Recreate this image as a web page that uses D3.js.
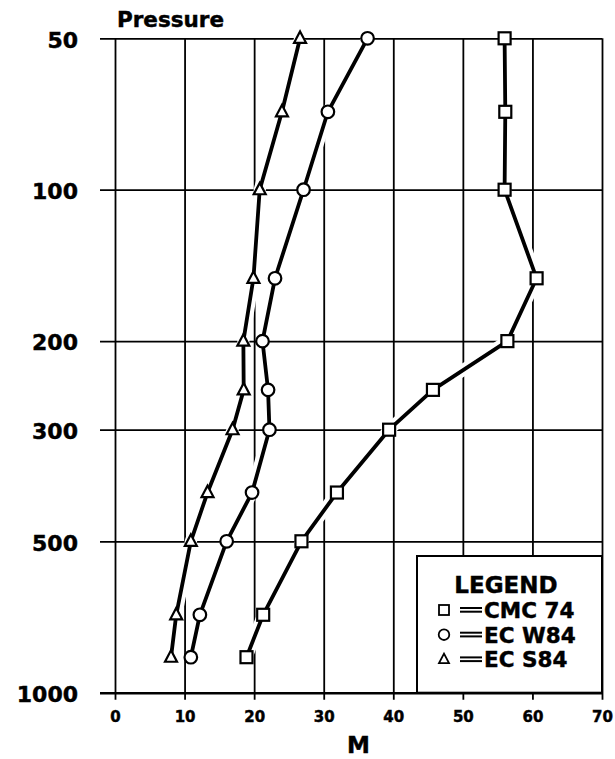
<!DOCTYPE html>
<html>
<head>
<meta charset="utf-8">
<script src="https://cdn.jsdelivr.net/npm/d3@7"></script>
<style>
  html, body { margin: 0; padding: 0; background: #fff; }
  svg { display: block; }
  text { font-family: "DejaVu Sans", sans-serif; font-weight: bold; fill: #000; stroke: #000; stroke-width: 0.45; }
</style>
</head>
<body>
<script>
// ---- data ----
const pressures = [50, 70, 100, 150, 200, 250, 300, 400, 500, 700, 850];
const cmc74 = [56.0, 56.1, 56.0, 60.6, 56.4, 45.7, 39.4, 31.9, 26.8, 21.3, 18.9];
const ecW84 = [36.3, 30.6, 27.1, 23.0, 21.2, 22.0, 22.2, 19.7, 16.05, 12.2, 10.9];
const ecS84 = [26.6, 24.0, 20.8, 19.9, 18.45, 18.5, 16.9, 13.3, 10.9, 8.8, 8.05];
const seriesNames = ["CMC 74", "EC W84", "EC S84"];
const seriesShapes = ["square", "circle", "triangle"];
const xTicks = [0, 10, 20, 30, 40, 50, 60, 70];
const yTicks = [50, 100, 200, 300, 500, 1000];
const xTitle = "M";
const yTitle = "Pressure";
const legendTitle = "LEGEND";

// ---- layout ----
const W = 615, H = 759;
const pLeft = 115, pRight = 602, pTop = 38.3, pBottom = 692.7;

const svg = d3.select("body").append("svg").attr("width", W).attr("height", H);

const x = d3.scaleLinear().domain([0, 70]).range([pLeft, pRight]);
const y = d3.scaleLog().domain([50, 1000]).range([pTop, pBottom]);

// horizontal grid + y labels
const gy = svg.append("g").attr("transform", `translate(${pLeft - 15},0)`)
  .call(d3.axisLeft(y).tickValues(yTicks).tickFormat(d3.format("d"))
    .tickSize(-(pRight - pLeft + 15)).tickPadding(22));
gy.select(".domain").remove();
gy.selectAll(".tick line").attr("stroke", "#000")
  .attr("stroke-width", d => d === 1000 ? 2.6 : 1.8);
gy.selectAll(".tick text").attr("font-size", 22).attr("font-family", "DejaVu Sans")
  .attr("font-weight", "bold").attr("fill", "#000").attr("dy", "0.4em");

// vertical grid + x labels
const gx = svg.append("g").attr("transform", `translate(0,${pBottom + 7})`)
  .call(d3.axisBottom(x).tickValues(xTicks).tickFormat(d3.format("d"))
    .tickSize(-(pBottom + 7 - pTop)).tickPadding(11.5));
gx.select(".domain").remove();
gx.selectAll(".tick line").attr("stroke", "#000").attr("stroke-width", 1.8);
gx.selectAll(".tick text").attr("font-size", 15).attr("font-family", "DejaVu Sans")
  .attr("font-weight", "bold").attr("fill", "#000");

// titles
svg.append("text").attr("x", 117).attr("y", 27).attr("font-size", 21.5).text(yTitle);
svg.append("text").attr("x", (pLeft + pRight) / 2).attr("y", 753).attr("text-anchor", "middle")
  .attr("font-size", 23).text(xTitle);

// ---- series ----
const series = [cmc74, ecW84, ecS84].map((vals, i) => ({
  name: seriesNames[i], shape: seriesShapes[i],
  pts: vals.map((v, j) => ({ m: v, p: pressures[j] }))
}));

const line = d3.line().x(d => x(d.m)).y(d => y(d.p));

// white halos (erase grid near the curves)
svg.append("g").selectAll("path").data(series).join("path")
  .attr("d", d => line(d.pts)).attr("fill", "none")
  .attr("stroke", "#fff").attr("stroke-width", 12).attr("stroke-linejoin", "round");

svg.append("g").selectAll("path").data(series).join("path")
  .attr("d", d => line(d.pts)).attr("fill", "none")
  .attr("stroke", "#000").attr("stroke-width", 3.8).attr("stroke-linejoin", "round");

function drawMarker(g, shape, cx, cy, s) {
  if (shape === "square") {
    g.append("rect").attr("x", cx - s / 2).attr("y", cy - s / 2).attr("width", s).attr("height", s);
  } else if (shape === "circle") {
    g.append("circle").attr("cx", cx).attr("cy", cy).attr("r", s / 2 + 0.3);
  } else {
    const h = s * 0.95;
    g.append("path").attr("d",
      `M${cx},${cy - h * 0.6}L${cx + s / 2},${cy + h * 0.4}L${cx - s / 2},${cy + h * 0.4}Z`);
  }
}

const mg = svg.append("g").attr("fill", "#fff").attr("stroke", "#000").attr("stroke-width", 2.2);
series.forEach(s => s.pts.forEach(d => drawMarker(mg, s.shape, x(d.m), y(d.p), 12)));

// ---- legend ----
const lg = svg.append("g");
lg.append("rect").attr("x", 417).attr("y", 556).attr("width", pRight - 417).attr("height", pBottom - 556)
  .attr("fill", "#fff").attr("stroke", "#000").attr("stroke-width", 2);
lg.append("text").attr("x", 506).attr("y", 593).attr("text-anchor", "middle")
  .attr("font-size", 23).text(legendTitle);
const lmg = lg.append("g").attr("fill", "#fff").attr("stroke", "#000").attr("stroke-width", 1.8);
series.forEach((s, i) => {
  const by = 618 + i * 24.7;
  drawMarker(lmg, s.shape, 444, by - 8, 10);
  lg.append("line").attr("x1", 460).attr("x2", 482).attr("y1", by - 10).attr("y2", by - 10)
    .attr("stroke", "#000").attr("stroke-width", 2);
  lg.append("line").attr("x1", 460).attr("x2", 482).attr("y1", by - 6.3).attr("y2", by - 6.3)
    .attr("stroke", "#000").attr("stroke-width", 2);
  lg.append("text").attr("x", 484).attr("y", by).attr("font-size", 21.5).text(s.name);
});
</script>
</body>
</html>
